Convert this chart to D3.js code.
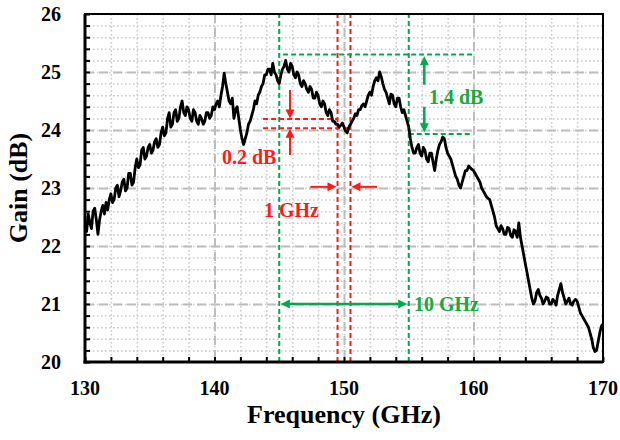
<!DOCTYPE html>
<html>
<head>
<meta charset="utf-8">
<script src="https://cdn.jsdelivr.net/npm/d3@7"></script>
<style>
  body { margin: 0; background: #fff; }
  svg text { font-family: "Liberation Serif", serif !important; font-weight: 700; }
</style>
</head>
<body>
<div id="chart"></div>
<script>
// measured gain, sampled every 0.125 GHz starting at 130 GHz
var freqStart = 130;
var freqStep = 0.125;
var gain = [
  22.35, 22.25, 22.55, 22.40, 22.30, 22.60, 22.65, 22.45,  // 130
  22.20, 22.45, 22.60, 22.70, 22.55, 22.75, 22.62, 22.80,  // 131
  22.90, 22.75, 22.80, 23.00, 23.05, 22.85, 22.95, 23.10,  // 132
  23.15, 22.95, 23.00, 23.25, 23.25, 23.05, 23.10, 23.35,  // 133
  23.50, 23.35, 23.40, 23.65, 23.70, 23.50, 23.55, 23.70,  // 134
  23.75, 23.60, 23.65, 23.80, 23.85, 23.70, 23.75, 23.95,  // 135
  24.05, 23.90, 23.95, 24.20, 24.30, 24.05, 24.10, 24.30,  // 136
  24.35, 24.15, 24.20, 24.40, 24.50, 24.30, 24.25, 24.40,  // 137
  24.35, 24.20, 24.15, 24.35, 24.30, 24.15, 24.10, 24.25,  // 138
  24.20, 24.10, 24.15, 24.30, 24.30, 24.20, 24.25, 24.40,  // 139
  24.35, 24.45, 24.50, 24.40, 24.60, 24.75, 24.98, 24.80,  // 140
  24.65, 24.50, 24.45, 24.55, 24.20, 24.35, 24.40, 24.20,  // 141
  24.00, 23.85, 23.75, 23.85, 23.95, 24.10, 24.15, 24.25,  // 142
  24.35, 24.50, 24.45, 24.60, 24.65, 24.75, 24.80, 24.95,  // 143
  24.95, 25.05, 25.05, 24.95, 25.15, 25.00, 24.95, 24.85,  // 144
  24.80, 24.95, 25.05, 25.10, 25.20, 25.05, 25.00, 25.15,  // 145
  25.10, 24.95, 24.90, 25.00, 24.95, 24.80, 24.75, 24.85,  // 146
  24.80, 24.70, 24.65, 24.75, 24.70, 24.55, 24.55, 24.65,  // 147
  24.60, 24.45, 24.40, 24.50, 24.45, 24.30, 24.25, 24.35,  // 148
  24.30, 24.15, 24.15, 24.10, 24.10, 24.05, 24.08, 24.12,  // 149
  24.05, 23.98, 23.95, 24.05, 24.10, 24.15, 24.20, 24.28,  // 150
  24.25, 24.35, 24.35, 24.42, 24.45, 24.40, 24.50, 24.60,  // 151
  24.65, 24.60, 24.75, 24.85, 24.90, 24.85, 25.00, 24.92,  // 152
  24.80, 24.70, 24.65, 24.55, 24.45, 24.62, 24.60, 24.45,  // 153
  24.40, 24.55, 24.55, 24.40, 24.30, 24.35, 24.25, 24.15,  // 154
  24.05, 23.85, 23.70, 23.60, 23.60, 23.70, 23.75, 23.60,  // 155
  23.55, 23.70, 23.65, 23.50, 23.45, 23.60, 23.60, 23.45,  // 156
  23.30, 23.50, 23.65, 23.75, 23.80, 23.88, 23.85, 23.70,  // 157
  23.60, 23.55, 23.50, 23.40, 23.30, 23.20, 23.15, 23.05,  // 158
  23.00, 23.10, 23.20, 23.30, 23.30, 23.38, 23.35, 23.32,  // 159
  23.30, 23.25, 23.20, 23.15, 23.10, 23.00, 22.95, 22.90,  // 160
  22.85, 22.82, 22.80, 22.70, 22.60, 22.50, 22.35, 22.30,  // 161
  22.25, 22.35, 22.30, 22.20, 22.20, 22.32, 22.30, 22.18,  // 162
  22.15, 22.28, 22.25, 22.15, 22.40, 22.15, 22.00, 21.85,  // 163
  21.70, 21.55, 21.40, 21.25, 21.10, 21.00, 21.05, 21.20,  // 164
  21.25, 21.15, 21.10, 21.00, 21.05, 21.12, 21.10, 21.00,  // 165
  21.00, 21.08, 21.05, 20.98, 21.15, 21.25, 21.35, 21.20,  // 166
  21.10, 21.00, 21.05, 21.10, 21.00, 20.98, 21.05, 21.08,  // 167
  21.05, 20.95, 20.85, 20.80, 20.75, 20.70, 20.65, 20.60,  // 168
  20.50, 20.40, 20.25, 20.18, 20.20, 20.35, 20.50, 20.62,  // 169
  20.65                                                    // 170
];

var xTicks = [130, 140, 150, 160, 170];
var yTicks = [20, 21, 22, 23, 24, 25, 26];

// annotation values (GHz / dB)
var greenBand = [145, 155];
var redBand = [149.5, 150.5];
var rippleTop = 25.3, rippleBottom = 23.93;
var flatTop = 24.19, flatBottom = 24.03;

var svgWidth = 620;
var svgHeight = 440;
var margin = { top: 14, right: 17, bottom: 78, left: 85 };
var width = svgWidth - margin.left - margin.right;
var height = svgHeight - margin.top - margin.bottom;

var RED = "#ff1a1a";
var GREEN = "#00a850";
var GREEN_TXT = "#1aa83a";

var svg = d3.select("#chart")
  .append("svg")
  .attr("width", svgWidth)
  .attr("height", svgHeight);

var chartGroup = svg.append("g")
  .attr("transform", `translate(${margin.left},${margin.top})`);

var x = d3.scaleLinear().domain([130, 170]).range([0, width]);
var y = d3.scaleLinear().domain([20, 26]).range([height, 0]);

// minor grid (dotted)
chartGroup.append("g")
  .call(d3.axisBottom(x).tickValues(d3.range(132, 170, 2)).tickSize(height).tickFormat(""))
  .call(g => g.select(".domain").remove())
  .selectAll("line").attr("stroke", "#c8c8c8").attr("stroke-width", 1.5).attr("stroke-dasharray", "1.5,2.5");
chartGroup.append("g")
  .call(d3.axisLeft(y).tickValues(d3.range(20.2, 26, 0.2)).tickSize(-width).tickFormat(""))
  .call(g => g.select(".domain").remove())
  .selectAll("line").attr("stroke", "#c8c8c8").attr("stroke-width", 1.5).attr("stroke-dasharray", "1.5,2.5");

// major grid (dashed)
chartGroup.append("g")
  .call(d3.axisBottom(x).tickValues([140, 150, 160]).tickSize(height).tickFormat(""))
  .call(g => g.select(".domain").remove())
  .selectAll("line").attr("stroke", "#bdbdbd").attr("stroke-width", 2).attr("stroke-dasharray", "9,5");
chartGroup.append("g")
  .call(d3.axisLeft(y).tickValues([21, 22, 23, 24, 25]).tickSize(-width).tickFormat(""))
  .call(g => g.select(".domain").remove())
  .selectAll("line").attr("stroke", "#bdbdbd").attr("stroke-width", 2).attr("stroke-dasharray", "9,5");

// dashed guide lines
function dashed(x1, y1, x2, y2, color) {
  chartGroup.append("line")
    .attr("x1", x(x1)).attr("y1", y(y1)).attr("x2", x(x2)).attr("y2", y(y2))
    .attr("stroke", color).attr("stroke-width", 2).attr("stroke-dasharray", "5,3");
}
greenBand.forEach(f => dashed(f, 20, f, 26, GREEN));
redBand.forEach(f => dashed(f, 20, f, 26, RED));
dashed(145.3, rippleTop, 160, rippleTop, GREEN);
dashed(155, rippleBottom, 159.8, rippleBottom, GREEN);
dashed(143.75, flatTop, redBand[0], flatTop, RED);
dashed(143.75, flatBottom, redBand[1], flatBottom, RED);

// arrow from (x1,y1) to (x2,y2) in data units, head at the end
function arrow(x1, y1, x2, y2, color, w, both) {
  var p1 = [x(x1), y(y1)], p2 = [x(x2), y(y2)];
  var ang = Math.atan2(p2[1] - p1[1], p2[0] - p1[0]);
  var hl = 9, hw = 4.5;
  function head(p, a) {
    var bx = p[0] - hl * Math.cos(a), by = p[1] - hl * Math.sin(a);
    var pts = [p, [bx - hw * Math.sin(a), by + hw * Math.cos(a)], [bx + hw * Math.sin(a), by - hw * Math.cos(a)]];
    chartGroup.append("path").attr("d", "M" + pts.join("L") + "Z").attr("fill", color);
  }
  var s = both ? [p1[0] + (hl - 1) * Math.cos(ang), p1[1] + (hl - 1) * Math.sin(ang)] : p1;
  chartGroup.append("line")
    .attr("x1", s[0]).attr("y1", s[1])
    .attr("x2", p2[0] - (hl - 1) * Math.cos(ang)).attr("y2", p2[1] - (hl - 1) * Math.sin(ang))
    .attr("stroke", color).attr("stroke-width", w);
  head(p2, ang);
  if (both) head(p1, ang + Math.PI);
}

// gain curve
var line = d3.line()
  .x((d, i) => x(freqStart + i * freqStep))
  .y(d => y(d));
chartGroup.append("path")
  .datum(gain)
  .attr("fill", "none")
  .attr("stroke", "#000")
  .attr("stroke-width", 2.8)
  .attr("stroke-linejoin", "round")
  .attr("d", line);

// red arrows: 0.2 dB and 1 GHz
arrow(145.83, 24.69, 145.83, flatTop + 0.01, RED, 2);
arrow(145.83, 23.57, 145.83, flatBottom - 0.01, RED, 2);
arrow(147.4, 23.02, redBand[0] - 0.08, 23.02, RED, 2);
arrow(152.55, 23.02, redBand[1] + 0.08, 23.02, RED, 2);

// green arrows: 1.4 dB and 10 GHz
arrow(156.2, 24.78, 156.2, rippleTop - 0.03, GREEN, 2.5);
arrow(156.2, 24.4, 156.2, rippleBottom + 0.03, GREEN, 2.5);
arrow(greenBand[0] + 0.12, 21, greenBand[1] - 0.12, 21, GREEN, 2.5, true);

// annotation labels
function label(t, px, py, color) {
  chartGroup.append("text").attr("x", px).attr("y", py)
    .attr("fill", color).attr("font-size", 20).text(t);
}
label("0.2 dB", 222 - margin.left, 164 - margin.top, RED);
label("1 GHz", 264 - margin.left, 217 - margin.top, RED);
label("1.4 dB", 429 - margin.left, 104 - margin.top, GREEN_TXT);
label("10 GHz", 414 - margin.left, 311 - margin.top, GREEN_TXT);

// axes
chartGroup.append("g")
  .attr("transform", `translate(0,${height})`)
  .call(d3.axisBottom(x).tickValues(d3.range(130, 171, 2)).tickSizeInner(-5).tickSizeOuter(0).tickFormat(""))
  .call(g => g.select(".domain").remove())
  .selectAll("line").attr("stroke", "#000").attr("stroke-width", 2);
chartGroup.append("g")
  .call(d3.axisLeft(y).tickValues(d3.range(20, 26.01, 0.2)).tickSizeInner(-5).tickSizeOuter(0).tickFormat(""))
  .call(g => g.select(".domain").remove())
  .selectAll("line").attr("stroke", "#000").attr("stroke-width", 2);

chartGroup.append("rect")
  .attr("width", width).attr("height", height)
  .attr("fill", "none").attr("stroke", "#000").attr("stroke-width", 2);
chartGroup.append("line").attr("x1", 0).attr("x2", 0).attr("y1", 0).attr("y2", height + 1.5)
  .attr("stroke", "#000").attr("stroke-width", 3);
chartGroup.append("line").attr("x1", -1.5).attr("x2", width).attr("y1", height).attr("y2", height)
  .attr("stroke", "#000").attr("stroke-width", 3);

// tick labels
chartGroup.selectAll(".xlab").data(xTicks).enter().append("text")
  .attr("x", d => x(d)).attr("y", height + 33)
  .attr("text-anchor", "middle").attr("font-size", 20).text(d => d);
chartGroup.selectAll(".ylab").data(yTicks).enter().append("text")
  .attr("x", -24).attr("y", d => y(d)).attr("dy", "0.35em")
  .attr("text-anchor", "end").attr("font-size", 20).text(d => d);

// axis titles
chartGroup.append("text")
  .attr("x", width / 2).attr("y", height + 61)
  .attr("text-anchor", "middle").attr("font-size", 26).text("Frequency (GHz)");
chartGroup.append("text")
  .attr("transform", `translate(${-margin.left + 27},${height / 2}) rotate(-90)`)
  .attr("text-anchor", "middle").attr("font-size", 26).text("Gain (dB)");
</script>
</body>
</html>
